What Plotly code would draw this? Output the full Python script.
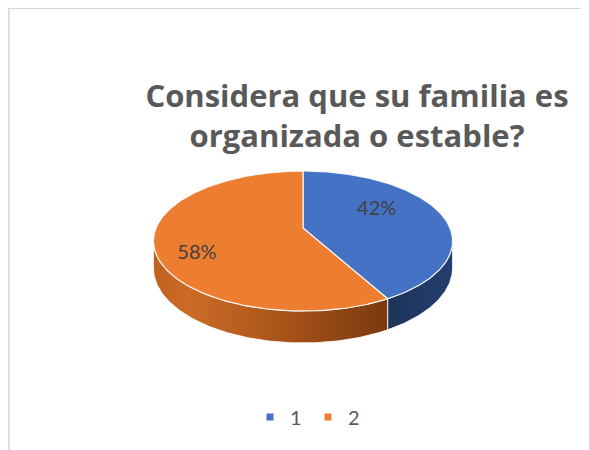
import numpy as np
import plotly.graph_objects as go

# ---- data ----
categories = ["1", "2"]
values = [42, 58]
top_colors = ["#4472C4", "#ED7D31"]
side_scales = [
    [[0, "#1d3359"], [1, "#243f70"]],
    [[0, "#bf6020"], [0.15, "#cc6b27"], [0.55, "#a95419"], [1, "#7a3a10"]],
]
title_text = "Considera que su familia es<br>organizada o estable?"

# ---- geometry (pixel space of the plot, style only) ----
W, H = 589, 450
OFF = 8.0  # page offset of the figure
CX, CY = 303.0 - OFF, 228.0 - OFF
RX, RY = 147.0, 67.6
K = 0.186          # perspective factor
DEPTH = 26.0


def project(theta_deg, f=1.0, drop=0.0):
    t = np.radians(theta_deg)
    u = f * np.sin(t)
    v = f * np.cos(t)
    s = 1.0 / (1.0 + K * v)
    return CX + RX * u * s, CY - RY * v * s + drop * s


total = float(sum(values))
fracs = [v / total for v in values]
angles = np.concatenate([[0.0], np.cumsum(fracs) * 360.0])
theta_t = np.degrees(np.arccos(-K))  # silhouette tangent

fig = go.Figure()

# sides
for i in range(len(values)):
    a0, a1 = angles[i], angles[i + 1]
    lo, hi = max(a0, theta_t), min(a1, 360 - theta_t)
    if hi <= lo:
        continue
    th = np.linspace(lo, hi, 120)
    xt, yt = project(th)
    xb, yb = project(th[::-1], drop=DEPTH)
    fig.add_trace(go.Scatter(
        x=np.concatenate([xt, xb, xt[:1]]),
        y=np.concatenate([yt, yb, yt[:1]]),
        mode="lines", fill="toself",
        line=dict(color="rgba(255,255,255,0.85)", width=1),
        fillgradient=dict(type="horizontal", colorscale=side_scales[i]),
        hoverinfo="skip", showlegend=False,
    ))

# tops
for i in range(len(values)):
    a0, a1 = angles[i], angles[i + 1]
    th = np.linspace(a0, a1, 200)
    xa, ya = project(th)
    fig.add_trace(go.Scatter(
        x=np.concatenate([[CX], xa, [CX]]),
        y=np.concatenate([[CY], ya, [CY]]),
        mode="lines", fill="toself", fillcolor=top_colors[i],
        line=dict(color="rgba(255,255,255,0.9)", width=1.2),
        name=categories[i], legendgroup=categories[i],
        hoverinfo="skip", showlegend=False,
    ))

# percentage labels
label_f = [0.53, 0.72]
label_dy = [-9, 13]
lx, ly, lt = [], [], []
for i in range(len(values)):
    mid = (angles[i] + angles[i + 1]) / 2
    x, y = project(mid, f=label_f[i])
    lx.append(x)
    ly.append(y + label_dy[i])
    lt.append(f"{round(fracs[i] * 100)}%")
fig.add_trace(go.Scatter(
    x=lx, y=ly, text=lt, mode="text",
    textfont=dict(family="Lato", size=20, color="#404040"),
    hoverinfo="skip", showlegend=False,
))

# legend entries
for i, c in enumerate(categories):
    fig.add_trace(go.Scatter(
        x=[None], y=[None], mode="markers",
        marker=dict(symbol="square", size=7, color=top_colors[i]),
        name=c, legendgroup=c,
    ))

fig.update_layout(
    width=W, height=H,
    margin=dict(l=0, r=0, t=0, b=0),
    paper_bgcolor="white", plot_bgcolor="white",
    xaxis=dict(range=[0, W], visible=False, fixedrange=True),
    yaxis=dict(range=[H, 0], visible=False, fixedrange=True),
    title=dict(
        text=title_text,
        font=dict(family="Open Sans", size=31, color="#595959", weight=700),
        x=(357 - OFF) / W, xanchor="center", xref="container",
        y=1 - (107 - OFF) / H, yanchor="top", yref="container",
    ),
    legend=dict(
        orientation="h", x=(308 - OFF) / W, xanchor="center",
        y=1 - (417 - OFF) / H, yanchor="middle",
        font=dict(family="Lato", size=20, color="#595959"),
        itemwidth=30, entrywidth=13, bgcolor="rgba(0,0,0,0)",
    ),
    showlegend=True,
    shapes=[
        dict(type="line", xref="paper", yref="paper",
             x0=0.8 / W, x1=0.8 / W, y0=0, y1=1,
             line=dict(color="#d9d9d9", width=1.6)),
        dict(type="line", xref="paper", yref="paper",
             x0=0, x1=1, y0=1 - 0.2 / H, y1=1 - 0.2 / H,
             line=dict(color="#d9d9d9", width=1.6)),
    ],
)

fig.write_html("out.html")
